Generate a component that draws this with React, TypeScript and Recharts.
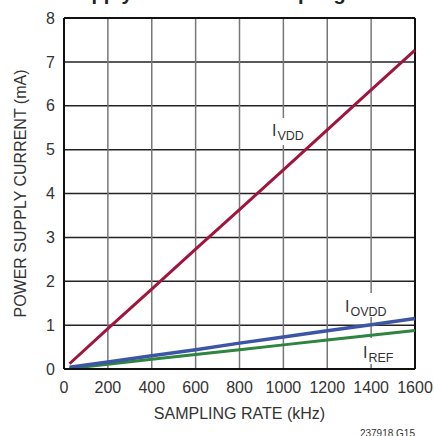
import React from "react";
import {
  LineChart,
  Line,
  CartesianGrid,
  XAxis,
  YAxis,
  ReferenceLine,
} from "recharts";

// sampling rate (kHz) and supply currents (mA)
const rateKHz = [25, 200, 400, 600, 800, 1000, 1200, 1400, 1600];
const iVdd = [0.12, 0.92, 1.82, 2.73, 3.63, 4.54, 5.45, 6.36, 7.27];
const iOvdd = [0.04, 0.16, 0.3, 0.44, 0.59, 0.73, 0.87, 1.01, 1.15];
const iRef = [0.01, 0.11, 0.22, 0.33, 0.44, 0.55, 0.66, 0.77, 0.88];

const xTicks = [0, 200, 400, 600, 800, 1000, 1200, 1400, 1600];
const yTicks = [0, 1, 2, 3, 4, 5, 6, 7, 8];

const data = rateKHz.map((r, i) => ({
  rate: r,
  vdd: iVdd[i],
  ovdd: iOvdd[i],
  ref: iRef[i],
}));

const FONT = '"Liberation Sans", Arial, sans-serif';
const W = 434;
const H = 436;

function SubLabel({ x, y, main, sub }: { x: number; y: number; main: string; sub: string }) {
  return (
    <text x={x} y={y} fontFamily={FONT} fontSize={16} fill="#333">
      {main}
      <tspan fontSize={12.5} dy={4} dx={1}>
        {sub}
      </tspan>
    </text>
  );
}

export default function App() {
  return (
    <div style={{ position: "absolute", left: 0, top: 0, width: W, height: H, background: "#fff" }}>
      <LineChart
        width={W}
        height={H}
        data={data}
        margin={{ top: 18, right: 19, bottom: 0, left: 0 }}
        style={{ fontFamily: FONT }}
      >
        <CartesianGrid vertical={false} stroke="#222" strokeWidth={1.5} />
        <CartesianGrid horizontal={false} stroke="#777" strokeWidth={1.5} />
        <XAxis
          dataKey="rate"
          type="number"
          domain={[0, 1600]}
          ticks={xTicks}
          height={67}
          tickLine={false}
          tickSize={0}
          tickMargin={13}
          axisLine={{ stroke: "#111", strokeWidth: 2 }}
          tick={{ fill: "#333", fontSize: 16, fontFamily: FONT }}
          interval={0}
        />
        <YAxis
          type="number"
          domain={[0, 8]}
          ticks={yTicks}
          width={64}
          tickLine={false}
          tickSize={0}
          tickMargin={9}
          axisLine={{ stroke: "#111", strokeWidth: 2 }}
          tick={{ fill: "#333", fontSize: 16, fontFamily: FONT }}
          interval={0}
        />
        <ReferenceLine y={8} stroke="#111" strokeWidth={2} />
        <ReferenceLine x={1600} stroke="#111" strokeWidth={2} />
        <Line
          dataKey="ref"
          type="linear"
          stroke="#2E8540"
          strokeWidth={3}
          dot={false}
          isAnimationActive={false}
        />
        <Line
          dataKey="ovdd"
          type="linear"
          stroke="#3D55A5"
          strokeWidth={3.5}
          dot={false}
          isAnimationActive={false}
        />
        <Line
          dataKey="vdd"
          type="linear"
          stroke="#A0153E"
          strokeWidth={3}
          dot={false}
          isAnimationActive={false}
        />
      </LineChart>
      <svg
        width={W}
        height={H}
        style={{ position: "absolute", left: 0, top: 0, pointerEvents: "none" }}
      >
        <text
          x={66}
          y={0}
          fontFamily={FONT}
          fontWeight="bold"
          fontSize={20}
          wordSpacing={4}
          fill="#222"
        >
          Supply Current vs Sampling Rate
        </text>
        <rect x={270} y={118} width={35} height={27} fill="#fff" />
        <rect x={343} y={293} width={45} height={24} fill="#fff" />
        <rect x={361} y={338} width={33} height={26} fill="#fff" />
        <SubLabel x={272} y={136} main="I" sub="VDD" />
        <SubLabel x={345} y={312} main="I" sub="OVDD" />
        <SubLabel x={363} y={358} main="I" sub="REF" />
        <text x={239.5} y={419} textAnchor="middle" fontFamily={FONT} fontSize={16} fill="#333">
          SAMPLING RATE (kHz)
        </text>
        <text
          x={26}
          y={193.5}
          textAnchor="middle"
          fontFamily={FONT}
          fontSize={16}
          fill="#333"
          transform="rotate(-90, 26, 193.5)"
        >
          POWER SUPPLY CURRENT (mA)
        </text>
        <text x={415} y={437} textAnchor="end" fontFamily={FONT} fontSize={10} fill="#333">
          237918 G15
        </text>
      </svg>
    </div>
  );
}
